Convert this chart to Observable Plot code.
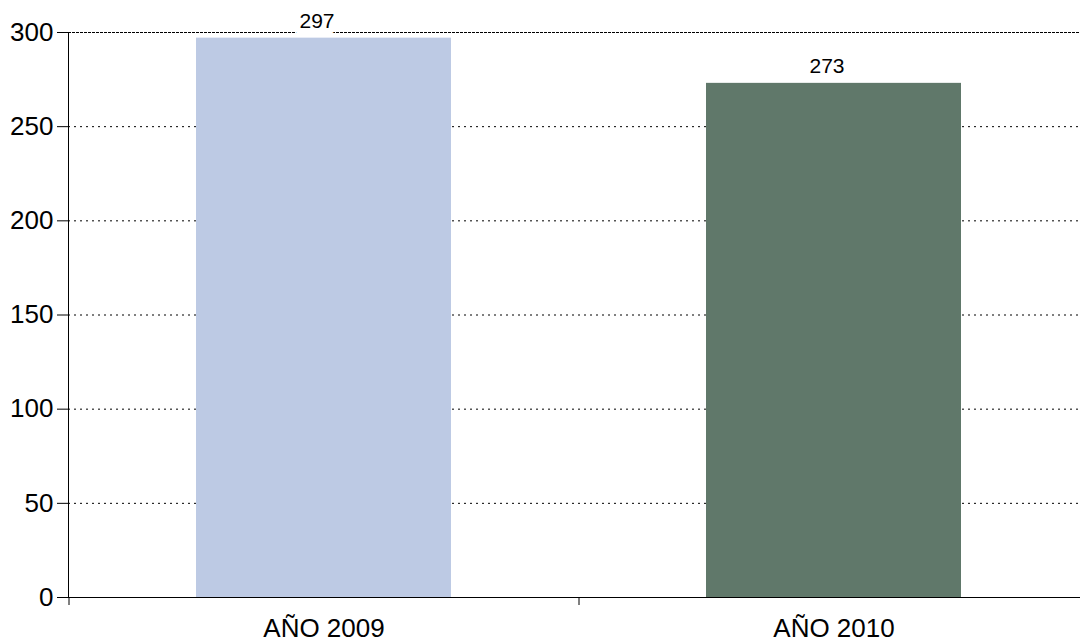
<!DOCTYPE html>
<html>
<head>
<meta charset="utf-8">
<script src="https://cdn.jsdelivr.net/npm/d3@7"></script>
<script src="https://cdn.jsdelivr.net/npm/@observablehq/plot@0.6"></script>
<style>
  html, body { margin: 0; padding: 0; background: #fff; }
</style>
</head>
<body>
<div id="chart"></div>
<script>
const categories = ["AÑO 2009", "AÑO 2010"];
const values = [297, 273];
const barColors = ["#BDCAE4", "#60786A"];
const yTicks = [0, 50, 100, 150, 200, 250, 300];

const data = categories.map((c, i) => ({cat: c, value: values[i], color: barColors[i]}));

const chart = Plot.plot({
  width: 1080,
  height: 644,
  marginLeft: 68,
  marginRight: 0,
  marginTop: 32,
  marginBottom: 47,
  style: {fontFamily: "'Liberation Sans', Arial, Helvetica, sans-serif", color: "black", background: "white"},
  x: {domain: categories, range: [68, 1088], paddingInner: 0.5, paddingOuter: 0.25, label: null},
  y: {domain: [0, 300], label: null},
  color: {type: "identity"},
  marks: [
    Plot.gridY(yTicks.filter(t => t > 0 && t < 300), {stroke: "black", strokeOpacity: 1, strokeDasharray: "2,4"}),
    Plot.ruleY([300], {stroke: "black", strokeDasharray: "3,1"}),
    Plot.barY(data, {x: "cat", y: "value", fill: "color"}),
    Plot.text(data, {x: "cat", y: "value", text: d => String(d.value), dx: -7, dy: -17, fontSize: 21, fill: "black", stroke: "white", strokeWidth: 13}),
    Plot.ruleY([0], {stroke: "black"}),
    Plot.frame({anchor: "left", stroke: "black"}),
    Plot.axisY(yTicks, {tickSize: 11, tickPadding: 4, fontSize: 26, label: null}),
    Plot.axisX({tickSize: 8, dx: -255, tickFormat: () => "", label: null}),
    Plot.axisX({tickSize: 0, tickPadding: 21, fontSize: 26, label: null})
  ]
});
document.getElementById("chart").appendChild(chart);
</script>
</body>
</html>
